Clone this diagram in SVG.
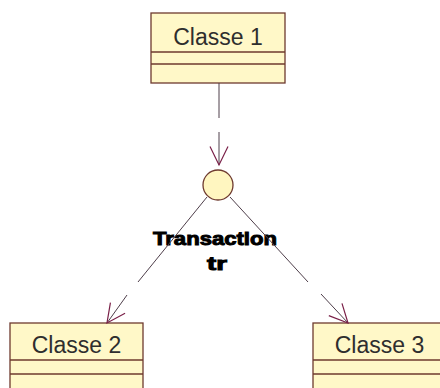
<svg xmlns="http://www.w3.org/2000/svg" width="440" height="388" viewBox="0 0 440 388">
  <style>
    .cls { fill: #FFF8C8; stroke: #6E3A2E; stroke-width: 1.3; }
    .sep { stroke: #6E3A2E; stroke-width: 1.3; fill: none; }
    .name { font-family: "Liberation Sans", Arial, sans-serif; font-size: 23px; fill: #2E2E2E; text-anchor: middle; }
    .dep { fill: none; stroke: #4E3E4A; stroke-width: 1; }
    .lbl { font-family: "Liberation Sans", Arial, sans-serif; font-size: 19px; font-weight: bold; fill: #000; stroke: #000; stroke-width: 1; text-anchor: middle; }
  </style>
  <defs>
    <marker id="open" markerUnits="userSpaceOnUse" markerWidth="30" markerHeight="30" viewBox="-25 -15 30 30" refX="0" refY="0" orient="auto" overflow="visible">
      <path d="M-18.5,-9 L0,0 L-18.5,9" fill="none" stroke="#7A2048" stroke-width="1.2"/>
    </marker>
  </defs>

  <rect width="440" height="388" fill="#FFFFFF"/>

  <!-- class boxes -->
  <g id="classe1">
    <rect class="cls" x="151" y="13" width="134" height="70"/>
    <line class="sep" x1="151" y1="52" x2="285" y2="52"/>
    <line class="sep" x1="151" y1="64" x2="285" y2="64"/>
    <text class="name" x="218" y="45">Classe 1</text>
  </g>

  <g id="classe2">
    <rect class="cls" x="10" y="323" width="133" height="70"/>
    <line class="sep" x1="10" y1="360" x2="143" y2="360"/>
    <line class="sep" x1="10" y1="374" x2="143" y2="374"/>
    <text class="name" x="76.5" y="353">Classe 2</text>
  </g>

  <g id="classe3">
    <rect class="cls" x="313" y="323" width="133" height="70"/>
    <line class="sep" x1="313" y1="360" x2="446" y2="360"/>
    <line class="sep" x1="313" y1="374" x2="446" y2="374"/>
    <text class="name" x="379.5" y="353">Classe 3</text>
  </g>

  <!-- transaction node -->
  <g id="transaction">
    <circle cx="218" cy="185" r="15" fill="#FFF6C0" stroke="#6E3A2E" stroke-width="1.3"/>
    <text class="lbl" x="215" y="245" textLength="124" lengthAdjust="spacingAndGlyphs">Transaction</text>
    <text class="lbl" x="217" y="270" textLength="20" lengthAdjust="spacingAndGlyphs">tr</text>
  </g>

  <!-- dependency connectors -->
  <g id="connectors">
    <path class="dep" d="M219,83 L219,118 M219,132 L219,165" marker-end="url(#open)"/>
    <path class="dep" d="M207,197 L138,282 M127,295 L107,323" marker-end="url(#open)"/>
    <path class="dep" d="M230,197 L308,282 M321,294 L348,323" marker-end="url(#open)"/>
  </g>
</svg>
